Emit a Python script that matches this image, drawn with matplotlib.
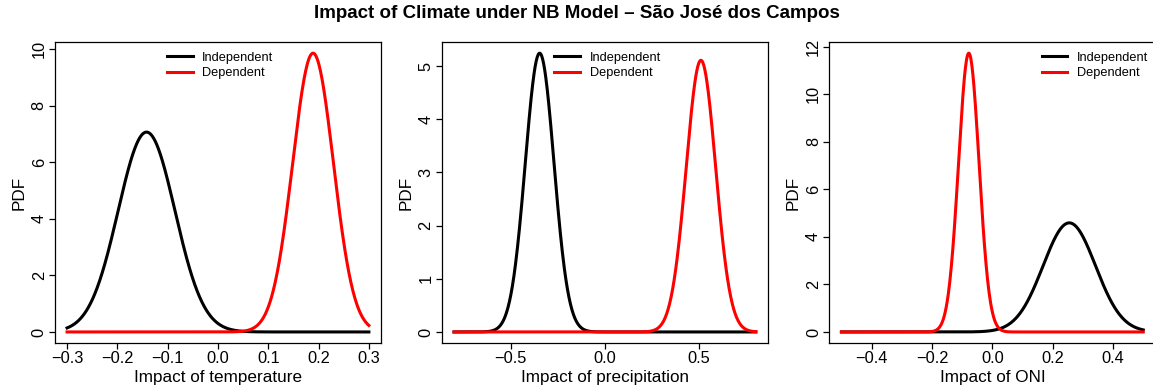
import matplotlib
matplotlib.use("Agg")
import matplotlib.pyplot as plt
import numpy as np

plt.rcParams['font.family'] = ['Liberation Sans', 'DejaVu Sans']

# normal densities: (mean, sd) per panel
panel_xlabels = ["Impact of temperature", "Impact of precipitation", "Impact of ONI"]
panel_ranges = [(-0.3, 0.3), (-0.8, 0.8), (-0.5, 0.5)]
indep_mean = [-0.142, -0.346, 0.255]
indep_sd = [0.0565, 0.0761, 0.0869]
dep_mean = [0.189, 0.509, -0.078]
dep_sd = [0.0405, 0.0781, 0.0340]
xticks = [[-0.3, -0.2, -0.1, 0.0, 0.1, 0.2, 0.3], [-0.5, 0.0, 0.5], [-0.4, -0.2, 0.0, 0.2, 0.4]]
yticks = [[0, 2, 4, 6, 8, 10], [0, 1, 2, 3, 4, 5], [0, 2, 4, 6, 8, 10, 12]]
series_names = ["Independent", "Dependent"]

legend_x = [0.344, 0.345, 0.652]
ax_left = [0.0477, 0.3833, 0.7193]


def dnorm(x, m, s):
    return np.exp(-0.5 * ((x - m) / s) ** 2) / (s * np.sqrt(2 * np.pi))


fig = plt.figure(figsize=(11.53, 3.89), dpi=100)
fig.suptitle("Impact of Climate under NB Model \u2013 S\u00e3o Jos\u00e9 dos Campos",
             fontsize=13.5, fontweight='bold', y=0.987)

for i in range(3):
    ax = fig.add_axes([ax_left[i], 0.118, 0.2827, 0.774])
    lo, hi = panel_ranges[i]
    x = np.linspace(lo, hi, 600)
    y1 = dnorm(x, indep_mean[i], indep_sd[i])
    y2 = dnorm(x, dep_mean[i], dep_sd[i])
    ax.plot(x, y1, color='black', lw=2.2, label=series_names[0])
    ax.plot(x, y2, color='red', lw=2.2, label=series_names[1])
    span = hi - lo
    ax.set_xlim(lo - 0.04 * span, hi + 0.04 * span)
    ymax = max(y1.max(), y2.max())
    ax.set_ylim(-0.04 * ymax, 1.04 * ymax)
    ax.set_xticks(xticks[i])
    ax.set_xticklabels([f"{v:.1f}".replace('-', '\u2212') for v in xticks[i]])
    ax.set_yticks(yticks[i])
    ax.set_yticklabels([str(v) for v in yticks[i]], rotation=90, va='center')
    ax.tick_params(axis='both', direction='out', length=4.1, width=0.9, labelsize=11.8)
    ax.tick_params(axis='x', pad=1.3)
    ax.tick_params(axis='y', pad=1.9)
    ax.set_xlabel(panel_xlabels[i], fontsize=12.3, labelpad=3)
    ax.set_ylabel("PDF", fontsize=12.3, labelpad=3.8)
    for sp in ax.spines.values():
        sp.set_linewidth(0.9)
    ax.legend(loc='upper left', bbox_to_anchor=(legend_x[i], 0.967), frameon=False,
              fontsize=9.2, handlelength=2.0, handletextpad=0.75, labelspacing=0.25,
              borderpad=0, borderaxespad=0)

fig.savefig("out.png", dpi=100)
